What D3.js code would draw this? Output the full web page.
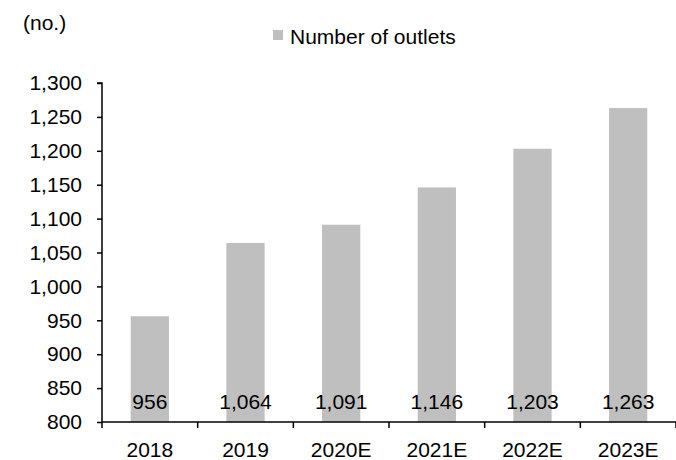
<!DOCTYPE html>
<html>
<head>
<meta charset="utf-8">
<script src="https://cdn.jsdelivr.net/npm/d3@7"></script>
<style>
  html, body { margin: 0; padding: 0; background: #fff; }
  svg { display: block; font-family: "Liberation Sans", Arial, sans-serif; }
</style>
</head>
<body>
<svg id="chart" width="676" height="460"></svg>
<script>
const categories = ["2018", "2019", "2020E", "2021E", "2022E", "2023E"];
const outlets = [956, 1064, 1091, 1146, 1203, 1263];
const yTicks = [800, 850, 900, 950, 1000, 1050, 1100, 1150, 1200, 1250, 1300];
const seriesName = "Number of outlets";
const unitLabel = "(no.)";

const svg = d3.select("#chart");
const mLeft = 102, mRight = 676, mTop = 83, mBottom = 422;
const fontSize = 21;
const barColor = "#bfbfbf";

const x = d3.scaleBand().domain(categories).range([mLeft, mRight])
  .paddingInner(0.6).paddingOuter(0.3);
const y = d3.scaleLinear().domain([800, 1300]).range([mBottom, mTop]);

// bars
svg.append("g").selectAll("rect").data(outlets).join("rect")
  .attr("x", (d, i) => x(categories[i]))
  .attr("y", d => y(d))
  .attr("width", x.bandwidth())
  .attr("height", d => y(800) - y(d))
  .attr("fill", barColor);

// value labels
svg.append("g").selectAll("text").data(outlets).join("text")
  .attr("x", (d, i) => x(categories[i]) + x.bandwidth() / 2)
  .attr("y", y(800) - 13)
  .attr("text-anchor", "middle")
  .attr("font-size", fontSize)
  .attr("fill", "#000")
  .text(d => d3.format(",")(d));

// y axis
const yAxis = d3.axisLeft(y).tickValues(yTicks).tickSize(5).tickPadding(15)
  .tickFormat(d3.format(","));
const gy = svg.append("g").attr("transform", `translate(${mLeft},0)`).call(yAxis);
gy.select(".domain").attr("stroke", "#000").attr("stroke-width", 1.5)
  .attr("d", `M-5,${y(1300)}H0V${y(800)}`);
gy.selectAll(".tick line").attr("stroke", "#000").attr("stroke-width", 1.5);
gy.selectAll(".tick text").attr("font-size", fontSize).attr("fill", "#000")
  .attr("font-family", "Liberation Sans, Arial, sans-serif");

// x axis
const gx = svg.append("g");
gx.append("line").attr("x1", mLeft).attr("x2", mRight)
  .attr("y1", y(800)).attr("y2", y(800))
  .attr("stroke", "#000").attr("stroke-width", 1.5);
gx.selectAll("line.tk").data(categories).join("line").attr("class", "tk")
  .attr("x1", d => x(d) + x.bandwidth() / 2 + x.step() / 2)
  .attr("x2", d => x(d) + x.bandwidth() / 2 + x.step() / 2)
  .attr("y1", y(800)).attr("y2", y(800) + 6)
  .attr("stroke", "#000").attr("stroke-width", 1.5);
gx.append("line").attr("x1", mLeft).attr("x2", mLeft)
  .attr("y1", y(800)).attr("y2", y(800) + 6)
  .attr("stroke", "#000").attr("stroke-width", 1.5);
gx.selectAll("text").data(categories).join("text")
  .attr("x", d => x(d) + x.bandwidth() / 2)
  .attr("y", 457)
  .attr("text-anchor", "middle")
  .attr("font-size", fontSize)
  .attr("fill", "#000")
  .text(d => d);

// unit label
svg.append("text").attr("x", 23).attr("y", 30)
  .attr("font-size", fontSize).attr("fill", "#000").text(unitLabel);

// legend
svg.append("rect").attr("x", 273).attr("y", 30).attr("width", 10).attr("height", 10)
  .attr("fill", barColor);
svg.append("text").attr("x", 290).attr("y", 44)
  .attr("font-size", fontSize).attr("fill", "#000").text(seriesName);
</script>
</body>
</html>
